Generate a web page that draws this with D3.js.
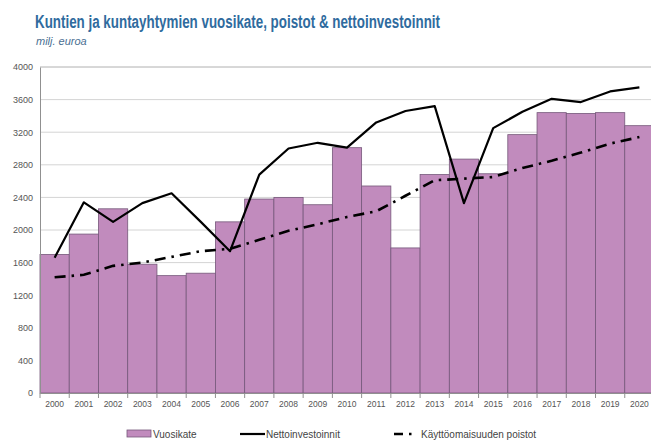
<!DOCTYPE html>
<html>
<head>
<meta charset="utf-8">
<script src="https://cdn.jsdelivr.net/npm/d3@7"></script>
<style>
  body { margin: 0; background: #fff; }
  svg { display: block; }
</style>
</head>
<body>
<div id="chart"></div>
<script>
// data (milj. euroa)
const years = ["2000","2001","2002","2003","2004","2005","2006","2007","2008","2009","2010",
    "2011","2012","2013","2014","2015","2016","2017","2018","2019","2020"];
const vuosikate = [1700, 1950, 2260, 1580, 1440, 1470, 2100, 2380, 2400, 2310, 3010,
    2540, 1780, 2680, 2870, 2690, 3170, 3440, 3430, 3440, 3280];
const nettoinvestoinnit = [1660, 2340, 2100, 2330, 2450, 2100, 1740, 2680, 3000, 3070, 3010,
    3320, 3460, 3520, 2330, 3250, 3450, 3610, 3570, 3700, 3750];
const poistot = [1420, 1450, 1560, 1600, 1670, 1740, 1770, 1880, 1990, 2070, 2160,
    2230, 2420, 2610, 2630, 2650, 2760, 2850, 2950, 3060, 3140];
const yTicks = [0, 400, 800, 1200, 1600, 2000, 2400, 2800, 3200, 3600, 4000];

const width = 651, height = 440;
const margin = { top: 67, left: 40, bottom: 47 };
const plotRight = 654; // chart is cut off at the right in the original

const svg = d3.select("#chart").append("svg")
    .attr("width", width)
    .attr("height", height);

const x = d3.scaleBand()
    .domain(years)
    .range([margin.left, plotRight])
    .padding(0);

const y = d3.scaleLinear()
    .domain([0, 4000])
    .range([height - margin.bottom, margin.top]);

// title
svg.append("text")
    .attr("x", 35).attr("y", 28)
    .attr("font-family", "'Liberation Sans Narrow', 'Arial Narrow', sans-serif")
    .attr("font-weight", "bold")
    .attr("font-size", 18)
    .attr("fill", "#2f6b9e")
    .attr("textLength", 405)
    .attr("lengthAdjust", "spacingAndGlyphs")
    .text("Kuntien ja kuntayhtymien vuosikate, poistot & nettoinvestoinnit");

svg.append("text")
    .attr("x", 36).attr("y", 45)
    .attr("font-family", "'Liberation Sans Narrow', 'Arial Narrow', sans-serif")
    .attr("font-style", "italic")
    .attr("font-size", 11)
    .attr("fill", "#4a6f93")
    .text("milj. euroa");

// gridlines
svg.append("g")
    .selectAll("line")
    .data(yTicks.filter(d => d > 0))
    .join("line")
    .attr("x1", margin.left).attr("x2", plotRight)
    .attr("y1", d => y(d)).attr("y2", d => y(d))
    .attr("stroke", d => d === 4000 ? "#b0b0b0" : "#d4d4d4")
    .attr("stroke-width", 1);

// bars
svg.append("g")
    .selectAll("rect")
    .data(years)
    .join("rect")
    .attr("x", d => x(d))
    .attr("y", (d, i) => y(vuosikate[i]))
    .attr("width", x.bandwidth())
    .attr("height", (d, i) => y(0) - y(vuosikate[i]))
    .attr("fill", "#c18bbd")
    .attr("stroke", "#75587a")
    .attr("stroke-width", 0.8);

// y axis
const yAxis = d3.axisLeft(y).tickValues(yTicks).tickSize(0).tickPadding(7).tickFormat(d3.format("d"));
const gy = svg.append("g")
    .attr("transform", "translate(" + margin.left + ",0)")
    .call(yAxis);
gy.select(".domain").attr("stroke", "#909090");
gy.selectAll(".tick text")
    .attr("font-family", "'Liberation Sans', Arial, sans-serif")
    .attr("font-size", 9)
    .attr("fill", "#555");

// x axis
const xAxis = d3.axisBottom(x).tickSize(0).tickPadding(8);
const gx = svg.append("g")
    .attr("transform", "translate(0," + y(0) + ")")
    .call(xAxis);
gx.select(".domain").attr("stroke", "#909090");
gx.selectAll(".tick text")
    .attr("font-family", "'Liberation Sans', Arial, sans-serif")
    .attr("font-size", 8.5)
    .attr("fill", "#555");
// small separators between categories
svg.append("g")
    .selectAll("line")
    .data(years)
    .join("line")
    .attr("x1", d => x(d)).attr("x2", d => x(d))
    .attr("y1", y(0)).attr("y2", y(0) + 5)
    .attr("stroke", "#909090");

// lines
const lineGen = d3.line()
    .x((d, i) => x(years[i]) + x.bandwidth() / 2)
    .y(d => y(d));

svg.append("path")
    .datum(poistot)
    .attr("d", lineGen)
    .attr("fill", "none")
    .attr("stroke", "#000")
    .attr("stroke-width", 2.6)
    .attr("stroke-dasharray", "11,6,2.5,6");

svg.append("path")
    .datum(nettoinvestoinnit)
    .attr("d", lineGen)
    .attr("fill", "none")
    .attr("stroke", "#000")
    .attr("stroke-width", 2.2)
    .attr("stroke-linejoin", "round");

// legend
const legend = svg.append("g")
    .attr("font-family", "'Liberation Sans', Arial, sans-serif")
    .attr("font-size", 10)
    .attr("fill", "#444");
const ly = 434;

legend.append("rect")
    .attr("x", 127).attr("y", ly - 4).attr("width", 24).attr("height", 7)
    .attr("fill", "#c18bbd").attr("stroke", "#75587a").attr("stroke-width", 0.8);
legend.append("text").attr("x", 153).attr("y", ly + 3.5).text("Vuosikate");

legend.append("line")
    .attr("x1", 240).attr("x2", 265).attr("y1", ly).attr("y2", ly)
    .attr("stroke", "#000").attr("stroke-width", 2.2);
legend.append("text").attr("x", 266).attr("y", ly + 3.5).text("Nettoinvestoinnit");

legend.append("line")
    .attr("x1", 394).attr("x2", 415).attr("y1", ly).attr("y2", ly)
    .attr("stroke", "#000").attr("stroke-width", 2.6)
    .attr("stroke-dasharray", "9,6,2.5,6");
legend.append("text").attr("x", 421).attr("y", ly + 3.5).text("Käyttöomaisuuden poistot");
</script>
</body>
</html>
